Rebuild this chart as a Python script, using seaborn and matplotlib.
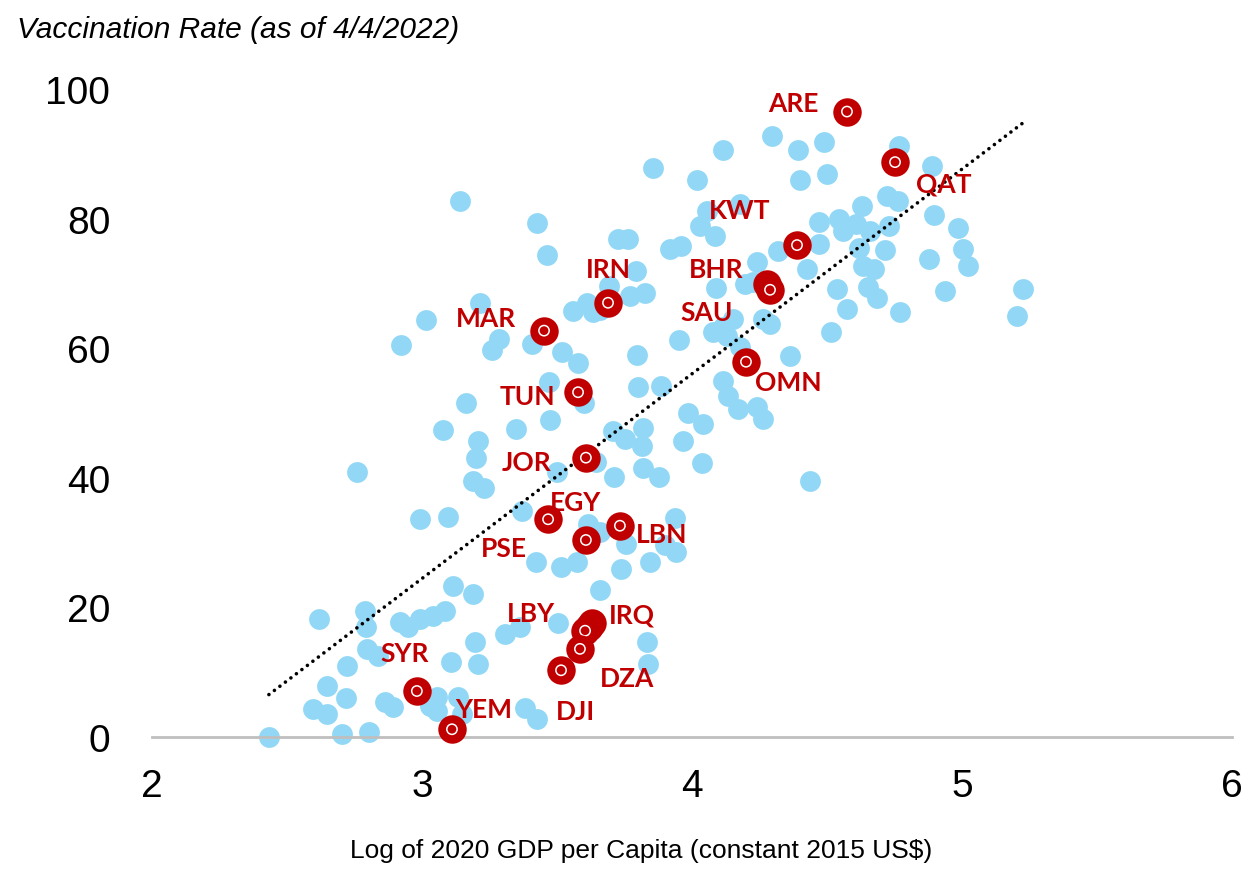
import numpy as np
import pandas as pd
import matplotlib
matplotlib.use("Agg")
import matplotlib.pyplot as plt
import seaborn as sns

# other countries: log GDP per capita and vaccination rate
other_gdp_log = [
    2.433, 2.704, 2.804, 2.596, 2.648, 2.648, 2.719, 2.722, 2.796, 2.837,
    2.863, 2.893, 3.056, 3.030, 3.056, 3.133, 3.148, 3.107, 3.207, 3.196,
    2.619, 2.789, 2.793, 2.919, 2.948, 2.993, 3.041, 3.085, 3.115, 3.189,
    3.307, 3.363, 3.504, 3.381, 3.426, 3.422, 3.515, 3.574, 3.659, 3.737,
    3.844, 3.833, 3.837, 3.756, 3.900, 3.941, 3.937, 3.615, 3.659, 2.993,
    3.096, 3.370, 3.189, 3.230, 3.200, 3.207, 3.078, 3.163, 3.348, 3.474,
    3.500, 2.759, 3.644, 3.711, 3.819, 3.878, 3.707, 3.752, 3.819, 3.815,
    3.967, 4.037, 3.985, 4.041, 3.600, 3.470, 3.800, 3.885, 2.922, 3.015,
    3.215, 3.285, 3.259, 3.407, 3.519, 3.578, 3.796, 3.952, 3.611, 3.559,
    3.633, 3.659, 3.693, 3.770, 3.826, 3.793, 3.726, 3.763, 3.919, 3.959,
    4.030, 4.085, 4.056, 4.178, 4.019, 3.856, 3.463, 3.426, 3.141, 4.115,
    4.296, 4.393, 4.489, 4.400, 4.500, 4.767, 4.889, 4.722, 4.763, 4.630,
    4.896, 4.985, 5.004, 5.022, 4.878, 4.937, 5.226, 5.204, 4.470, 4.544,
    4.559, 4.607, 4.659, 4.730, 4.619, 4.715, 4.470, 4.426, 4.319, 4.241,
    4.633, 4.674, 4.652, 4.685, 4.537, 4.574, 4.770, 4.515, 4.363, 4.089,
    4.196, 4.226, 4.152, 4.115, 4.078, 4.130, 4.289, 4.263, 4.178, 4.115,
    4.133, 4.170, 4.241, 4.263, 4.437,
]
other_vacc = [
    0.0, 0.5, 0.8, 4.3, 3.6, 7.9, 6.0, 11.0, 13.6, 12.5,
    5.4, 4.6, 6.2, 4.8, 4.0, 6.2, 3.6, 11.6, 11.3, 14.7,
    18.2, 19.4, 17.0, 17.8, 17.0, 18.2, 18.7, 19.4, 23.3, 22.1,
    15.9, 17.0, 17.6, 4.5, 2.8, 27.0, 26.2, 27.0, 22.7, 25.9,
    27.0, 14.7, 11.3, 29.8, 29.6, 28.6, 33.8, 32.9, 31.6, 33.6,
    34.0, 34.9, 39.5, 38.4, 43.1, 45.7, 47.4, 51.5, 47.5, 48.9,
    40.9, 40.9, 42.4, 40.1, 41.5, 40.1, 47.2, 46.0, 47.7, 44.9,
    45.7, 42.3, 50.0, 48.3, 51.5, 54.8, 54.0, 54.2, 60.5, 64.4,
    67.0, 61.4, 59.7, 60.7, 59.4, 57.7, 59.0, 61.3, 67.0, 65.7,
    65.6, 65.9, 69.6, 68.1, 68.5, 71.9, 76.9, 76.9, 75.3, 75.8,
    78.9, 77.3, 81.2, 82.3, 86.0, 87.8, 74.4, 79.3, 82.7, 90.6,
    92.8, 90.6, 91.8, 86.0, 86.9, 91.2, 88.1, 83.5, 82.7, 81.9,
    80.6, 78.6, 75.3, 72.7, 73.8, 68.8, 69.1, 65.0, 79.5, 79.9,
    78.1, 79.2, 78.1, 78.9, 75.5, 75.2, 76.1, 72.2, 75.0, 73.3,
    72.7, 72.2, 69.4, 67.8, 69.1, 66.1, 65.6, 62.5, 58.8, 69.3,
    69.9, 70.2, 64.5, 63.3, 62.5, 61.9, 63.7, 64.5, 60.2, 54.9,
    52.6, 50.6, 50.9, 49.1, 39.5,
]

# highlighted countries
arab_codes = ["ARE", "QAT", "KWT", "BHR", "SAU", "IRN", "MAR", "OMN", "TUN", "JOR",
              "EGY", "PSE", "LBN", "IRQ", "", "LBY", "DZA", "DJI", "SYR", "YEM"]
arab_gdp_log = [4.574, 4.752, 4.389, 4.278, 4.289, 3.689, 3.452, 4.200, 3.578, 3.607,
                3.467, 3.607, 3.733, 3.630, 3.618, 3.604, 3.585, 3.515, 2.981, 3.111]
arab_vacc = [96.5, 88.7, 75.9, 69.9, 69.0, 67.0, 62.7, 57.9, 53.2, 43.1,
             33.6, 30.4, 32.6, 17.6, 16.9, 16.4, 13.6, 10.3, 7.1, 1.2]

# label offsets in pixels (dx, dy up)
label_offsets = {
    "ARE": (-54, 9), "QAT": (49, -21), "KWT": (-57, 35), "BHR": (-51, 15),
    "SAU": (-63, -22), "IRN": (0, 34), "MAR": (-58, 13), "OMN": (42, -20),
    "TUN": (-51, -4), "JOR": (-59, -4), "EGY": (27, 17), "PSE": (-82, -8),
    "LBN": (42, -8), "IRQ": (40, 8), "LBY": (-54, 18), "DZA": (47, -29),
    "DJI": (14, -41), "SYR": (-12, 38), "YEM": (32, 20),
}

others = pd.DataFrame({"gdp": other_gdp_log, "vacc": other_vacc})
arab = pd.DataFrame({"code": arab_codes, "gdp": arab_gdp_log, "vacc": arab_vacc})
everyone = pd.concat([others, arab[["gdp", "vacc"]]], ignore_index=True)

sns.set_theme(style="white")
plt.rcParams["font.family"] = ["Liberation Sans", "DejaVu Sans"]
plt.rcParams["text.color"] = "black"

blue = "#92D8F6"
red = "#C00000"

fig = plt.figure(figsize=(12.51, 8.7), dpi=100)
ax = fig.add_axes([0.1215, 0.1517, 0.8633, 0.745])

sns.scatterplot(data=others, x="gdp", y="vacc", color=blue, s=225, linewidth=0,
                clip_on=False, zorder=2, ax=ax)

sns.regplot(data=everyone, x="gdp", y="vacc", scatter=False, ci=None, ax=ax,
            line_kws=dict(color="black", lw=2.6, linestyle=(0, (0.01, 1.9)),
                          dash_capstyle="round", zorder=3))

for i, row in arab.iterrows():
    ax.scatter(row["gdp"], row["vacc"], s=420, color=red, linewidth=0,
               zorder=4 + i * 0.01, clip_on=False)
    ax.scatter(row["gdp"], row["vacc"], s=55, facecolor="none", edgecolor="white",
               linewidth=1.1, zorder=4.005 + i * 0.01, clip_on=False)
    if row["code"]:
        dx, dy = label_offsets[row["code"]]
        ax.annotate(row["code"], (row["gdp"], row["vacc"]), xytext=(dx, dy),
                    textcoords="offset pixels", ha="center", va="center",
                    color=red, fontsize=19, fontweight="bold",
                    family=["Lato", "DejaVu Sans"], zorder=6)

ax.set_xlim(2, 6)
ax.set_ylim(0, 100)
ax.set_xticks([2, 3, 4, 5, 6])
ax.set_yticks([0, 20, 40, 60, 80, 100])
ax.tick_params(axis="both", length=0, labelsize=28, colors="black")
ax.tick_params(axis="x", pad=22)
ax.tick_params(axis="y", pad=30)

for side in ["top", "right", "left"]:
    ax.spines[side].set_visible(False)
ax.spines["bottom"].set_color("#BFBFBF")
ax.spines["bottom"].set_linewidth(2)
ax.grid(False)

ax.set_xlabel("Log of 2020 GDP per Capita (constant 2015 US$)", fontsize=19, color="black")
ax.xaxis.set_label_coords(0.453, -0.156)
ax.set_ylabel("")
fig.text(0.0136, 0.966, "Vaccination Rate (as of 4/4/2022)", fontsize=21.5,
         style="italic", ha="left", va="center", color="black")

plt.savefig("out.png", dpi=100)
